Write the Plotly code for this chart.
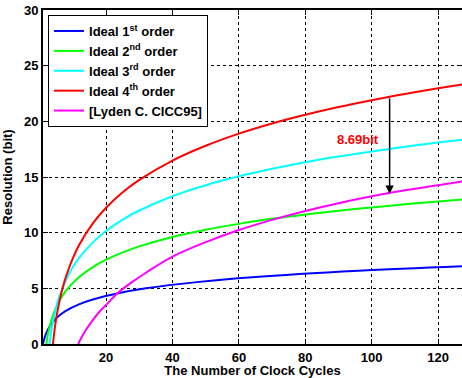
import plotly.graph_objects as go

# ---- data ----
x1 = [1, 1.5, 2, 3, 4, 6, 8, 12, 16, 24, 32, 48, 64, 96, 128]
y1 = [0, 0.58, 1.0, 1.58, 2.0, 2.58, 3.0, 3.58, 4.0, 4.58, 5.0, 5.58, 6.0, 6.58, 7.0]

x2 = [2, 2.5, 3, 4, 5, 6, 8, 10, 12, 16, 20, 25, 30, 40, 50, 60, 70, 80, 90, 100, 110, 120, 128]
y2 = [0, 0.91, 1.58, 2.58, 3.32, 3.91, 4.81, 5.49, 6.04, 6.91, 7.57, 8.23, 8.77, 9.61,
      10.26, 10.79, 11.24, 11.63, 11.97, 12.27, 12.55, 12.80, 12.99]

x3 = [3, 3.5, 4, 5, 6, 8, 10, 12, 16, 20, 25, 30, 40, 50, 60, 70, 80, 90, 100, 110, 120, 128]
y3 = [0, 1.13, 2.0, 3.32, 4.32, 5.81, 6.91, 7.78, 9.13, 10.15, 11.17, 11.99, 13.27,
      14.26, 15.06, 15.74, 16.33, 16.84, 17.30, 17.72, 18.10, 18.38]

x4 = [4, 4.5, 5, 6, 7, 8, 10, 12, 16, 20, 25, 30, 40, 50, 60, 70, 80, 90, 100, 110, 120, 128]
y4 = [0, 1.30, 2.32, 3.91, 5.13, 6.13, 7.71, 8.95, 10.83, 12.24, 13.63, 14.74, 16.48,
      17.81, 18.90, 19.81, 20.59, 21.29, 21.90, 22.46, 22.97, 23.35]

x5 = [11.6, 13, 14, 16, 18, 20, 23.4, 28, 32, 40, 50, 60, 70, 80, 90, 100, 110, 120, 128]
y5 = [0, 0.8, 1.3, 2.15, 2.9, 3.5, 4.55, 5.6, 6.4, 7.85, 9.15, 10.24, 11.15, 11.95,
      12.65, 13.27, 13.8, 14.25, 14.63]

names = ["Ideal 1<sup>st</sup> order", "Ideal 2<sup>nd</sup> order",
         "Ideal 3<sup>rd</sup> order", "Ideal 4<sup>th</sup> order",
         "[Lyden C. CICC95]"]
colors = ["#0000ff", "#00ff00", "#00ffff", "#ff0000", "#ff00ff"]

arrow_x = 105.4
arrow_top = 22.19
arrow_bottom = 13.5
label_text = "8.69bit"
label_x, label_y = 95.8, 18.4

x_ticks = [20, 40, 60, 80, 100, 120]
y_ticks = [0, 5, 10, 15, 20, 25, 30]

FONT = "Liberation Sans, Arial, sans-serif"

fig = go.Figure()
for xs, ys, nm, c in zip([x1, x2, x3, x4, x5], [y1, y2, y3, y4, y5], names, colors):
    fig.add_trace(go.Scatter(x=xs, y=ys, mode="lines", name=nm,
                             line=dict(color=c, width=2, shape="spline", smoothing=1.0)))

fig.add_annotation(x=arrow_x, y=arrow_bottom, ax=arrow_x, ay=arrow_top,
                   xref="x", yref="y", axref="x", ayref="y",
                   showarrow=True, arrowhead=2, arrowsize=1.1, arrowwidth=1.5,
                   arrowcolor="black", text="")
fig.add_annotation(x=label_x, y=label_y, xref="x", yref="y", text=label_text,
                   showarrow=False,
                   font=dict(family=FONT, size=13, color="#ff0000", weight="bold"))

axis_common = dict(showline=True, linecolor="black", linewidth=2, mirror="ticks",
                   ticks="inside", ticklen=5, tickwidth=1, tickcolor="black",
                   showgrid=True, gridcolor="black", gridwidth=1, griddash="dot",
                   zeroline=False, automargin=False,
                   tickfont=dict(family=FONT, size=13, color="black", weight="bold"))

fig.update_xaxes(range=[1, 127.2], tickvals=x_ticks,
                 title=dict(text="The Number of Clock Cycles",
                            font=dict(family=FONT, size=13, color="black", weight="bold")),
                 **axis_common)
fig.update_yaxes(range=[0, 30], tickvals=y_ticks,
                 title=dict(text="Resolution (bit)",
                            font=dict(family=FONT, size=13, color="black", weight="bold")),
                 **axis_common)

fig.update_layout(
    width=462, height=378,
    margin=dict(l=43, r=0, t=10, b=34),
    plot_bgcolor="white", paper_bgcolor="white",
    legend=dict(x=0.012, y=0.985, xanchor="left", yanchor="top",
                bgcolor="white", bordercolor="black", borderwidth=1,
                font=dict(family=FONT, size=13, color="black", weight="bold"),
                tracegroupgap=0, itemwidth=30),
    showlegend=True,
)

fig.write_html("out.html", config={"displayModeBar": False},
               post_script="document.body.style.margin='0px';document.body.style.overflow='hidden';")
